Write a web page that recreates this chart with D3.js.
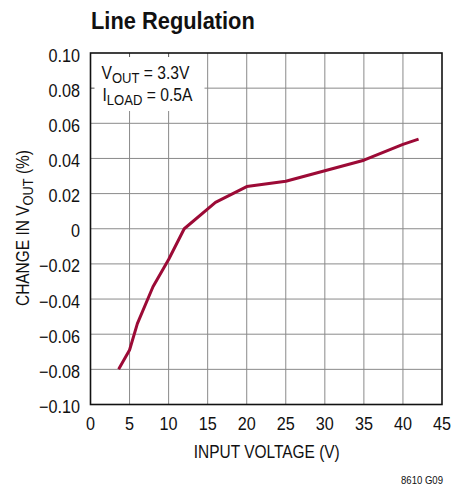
<!DOCTYPE html>
<html>
<head>
<meta charset="utf-8">
<script src="https://cdn.jsdelivr.net/npm/d3@7"></script>
<style>
  body { margin: 0; background: #fff; }
  text { font-family: "Liberation Sans", Arial, sans-serif; fill: #111; }
</style>
</head>
<body>
<svg id="chart" width="466" height="491"></svg>
<script>
// input voltage (V) vs change in Vout (%)
const inputVoltage = [3.6, 5, 6, 8, 10, 12, 16, 20, 25, 30, 35, 40, 42];
const changeVout = [-0.080, -0.069, -0.054, -0.033, -0.0175, 0.0, 0.015, 0.024, 0.027, 0.033, 0.039, 0.048, 0.051];
const xTicks = [0, 5, 10, 15, 20, 25, 30, 35, 40, 45];
const yTicks = [0.10, 0.08, 0.06, 0.04, 0.02, 0, -0.02, -0.04, -0.06, -0.08, -0.10];

const margin = { top: 53, right: 24, bottom: 86.5, left: 90.5 };
const width = 466, height = 491;
const svg = d3.select("#chart");

const x = d3.scaleLinear().domain([0, 45]).range([margin.left, width - margin.right]);
const y = d3.scaleLinear().domain([-0.10, 0.10]).range([height - margin.bottom, margin.top]);

// the original uses a condensed face, so squeeze Liberation Sans horizontally
function label(parent, tx, ty, size, anchor, squeeze) {
    const g = parent.append("g").attr("transform", `translate(${tx},${ty})`);
    const t = g.append("text").attr("font-size", size).attr("text-anchor", anchor)
        .attr("transform", `scale(${squeeze},1)`);
    return t;
}

// grid
const grid = svg.append("g").attr("stroke", "#8a8a8a").attr("stroke-width", 1);
grid.selectAll("line.v").data(xTicks.slice(1, -1)).join("line")
    .attr("x1", d => x(d)).attr("x2", d => x(d))
    .attr("y1", y(0.10)).attr("y2", y(-0.10));
grid.selectAll("line.h").data(yTicks.slice(1, -1)).join("line")
    .attr("x1", x(0)).attr("x2", x(45))
    .attr("y1", d => y(d)).attr("y2", d => y(d));

// white box behind the annotation
svg.append("rect")
    .attr("x", x(0)).attr("y", y(0.10))
    .attr("width", 114).attr("height", 58)
    .attr("fill", "#fff");

// small inner ticks that stay on top of the box
svg.append("g").attr("stroke", "#555").attr("stroke-width", 1)
    .selectAll("line").data([0.08]).join("line")
    .attr("x1", x(0)).attr("x2", x(0) + 4)
    .attr("y1", d => y(d)).attr("y2", d => y(d));
svg.append("g").attr("stroke", "#555").attr("stroke-width", 1)
    .selectAll("line").data([5, 10]).join("line")
    .attr("x1", d => x(d)).attr("x2", d => x(d))
    .attr("y1", y(0.10)).attr("y2", y(0.10) + 4);

// frame
svg.append("rect")
    .attr("x", x(0)).attr("y", y(0.10))
    .attr("width", x(45) - x(0)).attr("height", y(-0.10) - y(0.10))
    .attr("fill", "none").attr("stroke", "#111").attr("stroke-width", 1.6);

// curve
const line = d3.line().x((d, i) => x(inputVoltage[i])).y(d => y(d));
svg.append("path")
    .datum(changeVout)
    .attr("d", line)
    .attr("fill", "none")
    .attr("stroke", "#9c0a36")
    .attr("stroke-width", 3)
    .attr("stroke-linejoin", "round");

// tick labels
const fmtY = d => d === 0 ? "0" : d3.format(".2f")(d).replace("-", "\u2013");
yTicks.forEach(d => label(svg, x(0) - 10.5, y(d) + 8.5, 18, "end", 0.9).text(fmtY(d)));
xTicks.forEach(d => label(svg, x(d), 430, 18, "middle", 0.9).text(d));

// axis titles
label(svg, x(22.5) + 0.5, 458, 18, "middle", 0.86).text("INPUT VOLTAGE (V)");

const yg = svg.append("g").attr("transform", `translate(28.5,228) rotate(-90)`);
const yTitle = yg.append("text").attr("font-size", 18).attr("text-anchor", "middle")
    .attr("transform", "scale(0.86,1)");
yTitle.append("tspan").text("CHANGE IN V");
yTitle.append("tspan").attr("font-size", 15).attr("dy", 4).text("OUT");
yTitle.append("tspan").attr("dy", -4).text(" (%)");

// annotation
const a1 = label(svg, 101.5, 79, 18, "start", 0.87);
a1.append("tspan").text("V");
a1.append("tspan").attr("font-size", 15).attr("dy", 4).text("OUT");
a1.append("tspan").attr("dy", -4).text(" = 3.3V");
const a2 = label(svg, 102.5, 101, 18, "start", 0.87);
a2.append("tspan").text("I");
a2.append("tspan").attr("font-size", 15).attr("dy", 4).text("LOAD");
a2.append("tspan").attr("dy", -4).text(" = 0.5A");

// title and footer
label(svg, 91, 29, 23, "start", 0.95).attr("font-weight", "bold").text("Line Regulation");
label(svg, 443, 484, 11, "end", 0.87).text("8610 G09");
</script>
</body>
</html>
